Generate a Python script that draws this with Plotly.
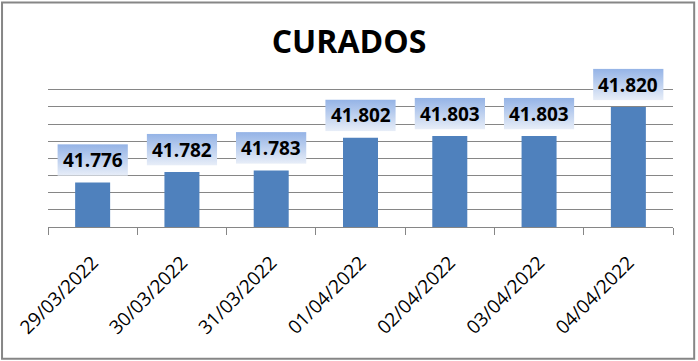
import base64
import plotly.graph_objects as go

# ---- data ----
dates = ["29/03/2022", "30/03/2022", "31/03/2022", "01/04/2022",
         "02/04/2022", "03/04/2022", "04/04/2022"]
curados = [41776, 41782, 41783, 41802, 41803, 41803, 41820]
grid_vals = [41750, 41760, 41770, 41780, 41790, 41800, 41810, 41820, 41830]
title_text = "CURADOS"

# ---- style ----
W_FIG, H_FIG = 698, 361
L, R, T, B = 48, 24.5, 63.5, 134.3
PW, PH = W_FIG - L - R, H_FIG - T - B
GRAY = "#868686"
BAR = "#4F81BD"
FONT = "Open Sans"
BOX_GAP, BOX_H, BOX_W = 3.8, 18.5, 0.79   # label box offsets (data/category units)

svg = ("<svg xmlns='http://www.w3.org/2000/svg' width='100' height='100' viewBox='0 0 100 100' "
       "preserveAspectRatio='none'><defs><linearGradient id='g' x1='0' y1='0' x2='0' y2='1'>"
       "<stop offset='0' stop-color='#94B3E6'/><stop offset='1' stop-color='#E8EEF8'/>"
       "</linearGradient></defs><rect width='100' height='100' fill='url(#g)'/></svg>")
grad_src = "data:image/svg+xml;base64," + base64.b64encode(svg.encode()).decode()


def fmt(v):
    return f"{v:,}".replace(",", ".")


fig = go.Figure(go.Bar(x=dates, y=curados, marker=dict(color=BAR, line=dict(width=0)),
                       hoverinfo="x+y"))

images = []
annotations = []
for i, (d, v) in enumerate(zip(dates, curados)):
    images.append(dict(source=grad_src, xref="x", yref="y", x=i, y=v + BOX_GAP,
                       sizex=BOX_W, sizey=BOX_H, xanchor="center", yanchor="bottom",
                       sizing="stretch", layer="above"))
    annotations.append(dict(x=d, y=v + BOX_GAP + BOX_H / 2, xref="x", yref="y",
                            text=fmt(v), showarrow=False, yanchor="middle",
                            font=dict(family=FONT, size=19, color="black", weight="bold")))


# outer chart border (pixel -> paper)
def px2x(px):
    return (px - L) / PW


def py2y(py):
    return (H_FIG - B - py) / PH


shapes = [dict(type="rect", xref="paper", yref="paper",
               x0=px2x(2), x1=px2x(694.7), y0=py2y(358.7), y1=py2y(2),
               line=dict(color=GRAY, width=2), fillcolor="rgba(0,0,0,0)", layer="above")]

fig.update_layout(
    width=W_FIG, height=H_FIG, autosize=False,
    margin=dict(l=L, r=R, t=T, b=B, pad=0),
    paper_bgcolor="white", plot_bgcolor="white",
    bargap=0.608, showlegend=False,
    title=dict(text=title_text, x=0.5, xref="container", xanchor="center",
               y=1 - 42 / H_FIG, yref="container", yanchor="middle",
               font=dict(family=FONT, size=32, color="black", weight="bold")),
    xaxis=dict(type="category", showgrid=False, showline=True, linecolor=GRAY, linewidth=1,
               ticks="outside", tickson="boundaries", ticklen=7, tickcolor=GRAY, tickwidth=1,
               tickangle=-45, tickfont=dict(family=FONT, size=19, color="black"),
               ticklabelstandoff=16),
    yaxis=dict(range=[41750, 41845], tickvals=grid_vals, showticklabels=False,
               showgrid=True, gridcolor=GRAY, gridwidth=1, zeroline=False, showline=False,
               ticks=""),
    images=images, annotations=annotations, shapes=shapes,
)

fig.write_html("out.html", config={"displayModeBar": False},
               post_script="document.body.style.margin='0';")
